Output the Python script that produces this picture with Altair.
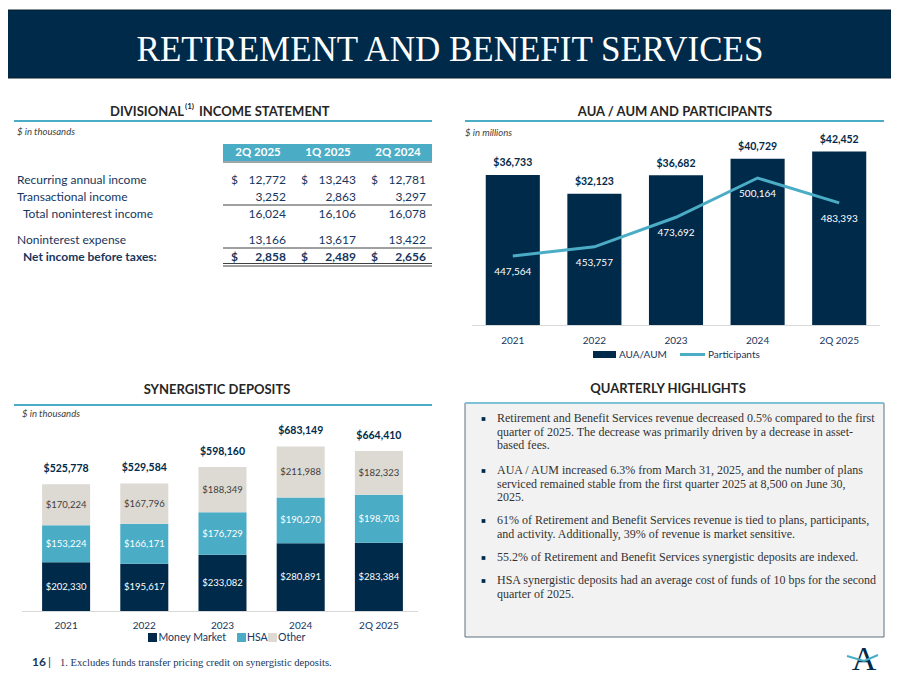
import altair as alt
import pandas as pd

# ---------------- data ----------------
periods = ["2Q 2025", "1Q 2025", "2Q 2024"]
row_labels = ["Recurring annual income", "Transactional income",
              "Total noninterest income", "Noninterest expense",
              "Net income before taxes:"]
recurring_income = [12772, 13243, 12781]
transactional_income = [3252, 2863, 3297]
total_noninterest_income = [16024, 16106, 16078]
noninterest_expense = [13166, 13617, 13422]
net_income_before_taxes = [2858, 2489, 2656]

years = ["2021", "2022", "2023", "2024", "2Q 2025"]
aua_aum = [36733, 32123, 36682, 40729, 42452]
participants = [447564, 453757, 473692, 500164, 483393]

deposit_categories = ["Money Market", "HSA", "Other"]
money_market = [202330, 195617, 233082, 280891, 283384]
hsa = [153224, 166171, 176729, 190270, 198703]
other = [170224, 167796, 188349, 211988, 182323]

highlights = [
    ["Retirement and Benefit Services revenue decreased 0.5% compared to the first",
     "quarter of 2025. The decrease was primarily driven by a decrease in asset-",
     "based fees."],
    ["AUA / AUM increased 6.3% from March 31, 2025, and the number of plans",
     "serviced remained stable from the first quarter 2025 at 8,500 on June 30,",
     "2025."],
    ["61% of Retirement and Benefit Services revenue is tied to plans, participants,",
     "and activity. Additionally, 39% of revenue is market sensitive."],
    ["55.2% of Retirement and Benefit Services synergistic deposits are indexed."],
    ["HSA synergistic deposits had an average cost of funds of 10 bps for the second",
     "quarter of 2025."],
]
footnote = "1. Excludes funds transfer pricing credit on synergistic deposits."

# ---------------- styles ----------------
NAVY = "#002A4A"
TEAL = "#4BACC6"
GRAY = "#DDDAD4"
TXT = "#262626"
TBL = "#17365D"
SANS = "Lato"
SERIF = "Liberation Serif"

W, H = 883, 675
OX, OY = 8, 8


def px(x):
    return x - OX


def py(y):
    return y - OY


one = pd.DataFrame({"k": [0]})
L = []


def rect(x1, y1, x2, y2, fill, stroke=None, sw=0):
    kw = dict(fill=fill)
    if stroke:
        kw.update(stroke=stroke, strokeWidth=sw)
    else:
        kw.update(strokeWidth=0)
    return alt.Chart(one).mark_rect(**kw).encode(
        x=alt.value(px(x1)), x2=alt.value(px(x2)),
        y=alt.value(py(y1)), y2=alt.value(py(y2)))


def seg(x1, y1, x2, y2, color, sw=1):
    return alt.Chart(one).mark_rule(color=color, strokeWidth=sw).encode(
        x=alt.value(px(x1)), x2=alt.value(px(x2)),
        y=alt.value(py(y1)), y2=alt.value(py(y2)))


def label(txt, x, y, size=12, color=TXT, font=SANS, weight="normal",
          align="left", baseline="middle", style="normal", **kw):
    return alt.Chart(one).mark_text(
        text=txt, font=font, fontSize=size, fontWeight=weight, color=color,
        align=align, baseline=baseline, fontStyle=style, **kw).encode(
        x=alt.value(px(x)), y=alt.value(py(y)))


# ---------------- header ----------------
L.append(rect(-10, 10, 910, 78, NAVY, stroke="#0a1a2a", sw=1))
L.append(label("RETIREMENT AND BENEFIT SERVICES", 450, 49.5, size=35,
               color="white", font=SERIF, align="center"))

# ---------------- section titles ----------------
L.append(label("DIVISIONAL", 184, 111.5, size=13, weight="bold", align="right"))
L.append(label("(1)", 185, 107, size=8, weight="bold"))
L.append(label("INCOME STATEMENT", 199, 111.5, size=13, weight="bold"))
L.append(label("AUA / AUM AND PARTICIPANTS", 675, 111.5, size=13, weight="bold", align="center"))
L.append(label("SYNERGISTIC DEPOSITS", 217, 390, size=13, weight="bold", align="center"))
L.append(label("QUARTERLY HIGHLIGHTS", 668, 389, size=13, weight="bold", align="center"))
L.append(seg(14, 121, 432, 121, TEAL, 2))
L.append(seg(465, 121, 884, 121, TEAL, 2))
L.append(seg(14, 405, 432, 405, TEAL, 2))

L.append(label("$ in thousands", 17, 132, size=9.5, style="italic", color="#404040"))
L.append(label("$ in millions", 465, 133, size=9.5, style="italic", color="#404040"))
L.append(label("$ in thousands", 22, 414, size=9.5, style="italic", color="#404040"))

# ---------------- income statement table ----------------
L.append(rect(223, 144, 432, 161, TEAL))
L.append(seg(223, 162, 432, 162, "#3b4a5a", 1))
tbl_x = alt.Scale(type="point", domain=periods, range=[px(286), px(426)], padding=0)
hdr = pd.DataFrame({"period": periods})
L.append(alt.Chart(hdr).mark_text(font=SANS, fontSize=11.5, fontWeight="bold", color="white",
                                  align="center", baseline="middle", dx=-28).encode(
    x=alt.X("period:N", scale=tbl_x, axis=None), y=alt.value(py(153)), text="period:N"))

rows = [recurring_income, transactional_income, total_noninterest_income,
        noninterest_expense, net_income_before_taxes]
row_y = [180, 197, 214, 240, 257]
row_x = [17, 17, 23, 17, 23]
for i, (lab, vals) in enumerate(zip(row_labels, rows)):
    bold = "bold" if i == 4 else "normal"
    L.append(label(lab, row_x[i], row_y[i], size=12, color=TBL, weight=bold))
    df = pd.DataFrame({"period": periods, "txt": [f"{v:,}" for v in vals]})
    L.append(alt.Chart(df).mark_text(font=SANS, fontSize=12, fontWeight=bold, color=TBL,
                                     align="right", baseline="middle").encode(
        x=alt.X("period:N", scale=tbl_x, axis=None), y=alt.value(py(row_y[i])), text="txt:N"))
    if i in (0, 4):
        L.append(alt.Chart(df).mark_text(text="$", font=SANS, fontSize=12, fontWeight=bold,
                                         color=TBL, align="left", baseline="middle", dx=-55).encode(
            x=alt.X("period:N", scale=tbl_x, axis=None), y=alt.value(py(row_y[i]))))
L.append(seg(223, 205, 432, 205, "#404040", 1))
L.append(seg(223, 248, 432, 248, "#404040", 1))
L.append(seg(223, 263.5, 432, 263.5, "#404040", 1))
L.append(seg(223, 266, 432, 266, "#404040", 1))

# ---------------- AUA / AUM chart ----------------
aua_df = pd.DataFrame({"year": years, "aua": aua_aum, "participants": participants,
                       "idx": list(range(len(years)))})
aua_df["aua_label"] = ["$" + f"{v:,}" for v in aua_aum]
aua_df["part_label"] = [f"{v:,}" for v in participants]

ax = alt.Scale(type="band", domain=years, range=[px(472), px(880)],
               paddingInner=0.337, paddingOuter=0.1685)
ay = alt.Scale(domain=[0, 45000], range=[py(325), py(141.2)], nice=False, zero=True)
py_scale = alt.Scale(domain=[400000, 520000], range=[py(326.5), py(148.6)], nice=False, zero=False)

L.append(alt.Chart(aua_df).mark_bar(color=NAVY).encode(
    x=alt.X("year:N", scale=ax, axis=None),
    y=alt.Y("aua:Q", scale=ay, axis=None)))
L.append(alt.Chart(aua_df).mark_text(font=SANS, fontSize=10.5, fontWeight="bold", color=NAVY,
                                     baseline="middle", align="center", dy=-11.5).encode(
    x=alt.X("year:N", scale=ax, axis=None, bandPosition=0.5),
    y=alt.Y("aua:Q", scale=ay, axis=None), text="aua_label:N"))
L.append(seg(472, 325.5, 880, 325.5, "#d9d9d9", 1))
L.append(alt.Chart(aua_df).mark_line(color=TEAL, strokeWidth=3).encode(
    x=alt.X("year:N", scale=ax, axis=None, bandPosition=0.5),
    y=alt.Y("participants:Q", scale=py_scale, axis=None),
    order=alt.Order("idx:Q")))
L.append(alt.Chart(aua_df).mark_text(font=SANS, fontSize=10, color="white",
                                     baseline="middle", align="center", dy=16).encode(
    x=alt.X("year:N", scale=ax, axis=None, bandPosition=0.5),
    y=alt.Y("participants:Q", scale=py_scale, axis=None), text="part_label:N"))
L.append(alt.Chart(aua_df).mark_text(font=SANS, fontSize=10, color=TBL,
                                     baseline="middle", align="center").encode(
    x=alt.X("year:N", scale=ax, axis=None, bandPosition=0.5),
    y=alt.value(py(341)), text="year:N"))
# legend
L.append(rect(593, 351, 616, 358, NAVY))
L.append(label("AUA/AUM", 619, 354.5, size=10, color=TBL))
L.append(seg(680, 354.5, 705, 354.5, TEAL, 3))
L.append(label("Participants", 708, 354.5, size=10, color=TBL))

# ---------------- synergistic deposits ----------------
recs = []
for j, y in enumerate(years):
    base = 0
    for c, vals, tc in zip(deposit_categories, [money_market, hsa, other],
                           ["white", "white", "#404040"]):
        v = vals[j]
        recs.append({"year": y, "cat": c, "start": base, "end": base + v,
                     "mid": base + v / 2, "label": "$" + f"{v:,}", "tcolor": tc})
        base += v
dep_df = pd.DataFrame(recs)
tot_df = pd.DataFrame({"year": years,
                       "total": [a + b + c for a, b, c in zip(money_market, hsa, other)]})
tot_df["label"] = ["$" + f"{v:,}" for v in tot_df["total"]]

dx_s = alt.Scale(type="band", domain=years, range=[px(27), px(418)],
                 paddingInner=0.386, paddingOuter=0.193)
dy_s = alt.Scale(domain=[0, 750000], range=[py(611), py(430.3)], nice=False, zero=True)

L.append(alt.Chart(dep_df).mark_bar().encode(
    x=alt.X("year:N", scale=dx_s, axis=None),
    y=alt.Y("start:Q", scale=dy_s, axis=None),
    y2="end:Q",
    color=alt.Color("cat:N", scale=alt.Scale(domain=deposit_categories,
                                             range=[NAVY, TEAL, GRAY]), legend=None)))
L.append(alt.Chart(dep_df).mark_text(font=SANS, fontSize=9.5, baseline="middle", align="center").encode(
    x=alt.X("year:N", scale=dx_s, axis=None, bandPosition=0.5),
    y=alt.Y("mid:Q", scale=dy_s, axis=None),
    color=alt.Color("tcolor:N", scale=None), text="label:N"))
L.append(alt.Chart(tot_df).mark_text(font=SANS, fontSize=10.5, fontWeight="bold", color=NAVY,
                                     baseline="middle", align="center", dy=-15).encode(
    x=alt.X("year:N", scale=dx_s, axis=None, bandPosition=0.5),
    y=alt.Y("total:Q", scale=dy_s, axis=None), text="label:N"))
L.append(seg(22, 611.5, 418, 611.5, "#d9d9d9", 1))
L.append(alt.Chart(tot_df).mark_text(font=SANS, fontSize=10, color=TBL,
                                     baseline="middle", align="center").encode(
    x=alt.X("year:N", scale=dx_s, axis=None, bandPosition=0.5),
    y=alt.value(py(626)), text="year:N"))
# legend
L.append(rect(148, 633, 157, 642, NAVY))
L.append(label("Money Market", 158.5, 638, size=10.5, color=TBL))
L.append(rect(237, 633, 246, 642, TEAL))
L.append(label("HSA", 247, 638, size=10.5, color=TBL))
L.append(rect(268, 633, 277, 642, GRAY))
L.append(label("Other", 278, 638, size=10.5, color=TBL))

# ---------------- quarterly highlights ----------------
L.append(rect(465, 403, 884, 637, "#F2F2F2", stroke="#5D7180", sw=1))
L.append(seg(465, 403, 884, 403, "#7FC3D8", 2))
para_y = [419, 471, 521, 558, 581]
FS = 12
for lines, yy in zip(highlights, para_y):
    L.append(alt.Chart(one).mark_square(color=NAVY, size=14, opacity=1).encode(
        x=alt.value(px(483.5)), y=alt.value(py(yy))))
    L.append(alt.Chart(one).mark_text(text=lines, font=SERIF, fontSize=FS, color="#333333",
                                      align="left", baseline="top", lineHeight=13.5).encode(
        x=alt.value(px(497)), y=alt.value(py(yy - 0.49 * FS))))

# ---------------- footer ----------------
L.append(label("16", 32, 662, size=12, weight="bold", color=TBL))
L.append(label("|", 48, 662, size=12, color=TBL))
L.append(label(footnote, 60, 662.5, size=10.6, font=SERIF, color=TBL))
# logo
L.append(label("A", 864, 670, size=34, font=SERIF, color=NAVY, align="center", baseline="alphabetic"))
L.append(seg(847, 656, 864, 661, TEAL, 2))
L.append(seg(864, 661, 878, 655, TEAL, 2))

chart = alt.layer(*L).resolve_scale(
    x="independent", y="independent", color="independent"
).properties(
    width=W, height=H, autosize=alt.AutoSizeParams(type="none"), padding=0,
    background="white"
).configure_view(strokeWidth=0)

chart.save("out.html", embed_options={"renderer": "svg", "actions": False})
